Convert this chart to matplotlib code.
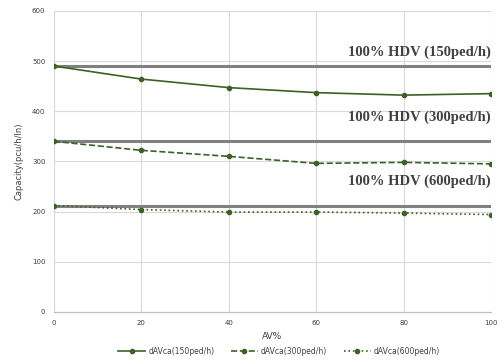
import matplotlib.pyplot as plt
import numpy as np

av = [0, 20, 40, 60, 80, 100]
cap150 = [490, 464, 447, 437, 432, 435]
cap300 = [340, 322, 310, 296, 298, 295]
cap600 = [212, 204, 199, 199, 197, 194]
hdv = [490, 341, 212]
hdv_labels = ["100% HDV (150ped/h)", "100% HDV (300ped/h)", "100% HDV (600ped/h)"]
hdv_text_y = [518, 387, 261]

green = "#3b6124"

fig = plt.figure(figsize=(5.03, 3.61), dpi=100)
ax = fig.add_axes([0.107, 0.136, 0.869, 0.834])

for h in hdv:
    ax.axhline(h, color="#808080", lw=2.2, zorder=2)

ax.plot(av, cap150, "-", color=green, lw=1.2, marker="o", ms=3,
        label="dAVca(150ped/h)", zorder=3)
ax.plot(av, cap300, "--", color=green, lw=1.2, marker="o", ms=3,
        label="dAVca(300ped/h)", zorder=3)
ax.plot(av, cap600, ":", color=green, lw=1.2, marker="o", ms=3,
        label="dAVca(600ped/h)", zorder=3)

for t, y in zip(hdv_labels, hdv_text_y):
    ax.text(100, y, t, ha="right", va="center", fontsize=10.5,
            fontweight="bold", family="Liberation Serif", color="#404040")

ax.set_xlim(0, 100)
ax.set_ylim(0, 600)
ax.set_xticks(av)
ax.set_yticks(np.arange(0, 601, 100))
ax.grid(color="#d9d9d9", lw=0.8)
ax.set_axisbelow(True)
for s in ["top", "right"]:
    ax.spines[s].set_visible(False)
ax.spines["left"].set_color("#d9d9d9")
ax.spines["bottom"].set_color("#bfbfbf")
ax.tick_params(length=0, labelsize=5, colors="#404040", pad=6)
ax.set_xlabel("AV%", fontsize=6.5, color="#404040", labelpad=4)
ax.set_ylabel("Capacity(pcu/h/ln)", fontsize=6, color="#404040", labelpad=6)

fig.legend(loc="lower center", bbox_to_anchor=(0.555, -0.005), ncol=3,
           frameon=False, fontsize=5.5, handlelength=3.5, columnspacing=2.2,
           handletextpad=0.4, labelcolor="#404040")

fig.savefig("out.png", dpi=100)
